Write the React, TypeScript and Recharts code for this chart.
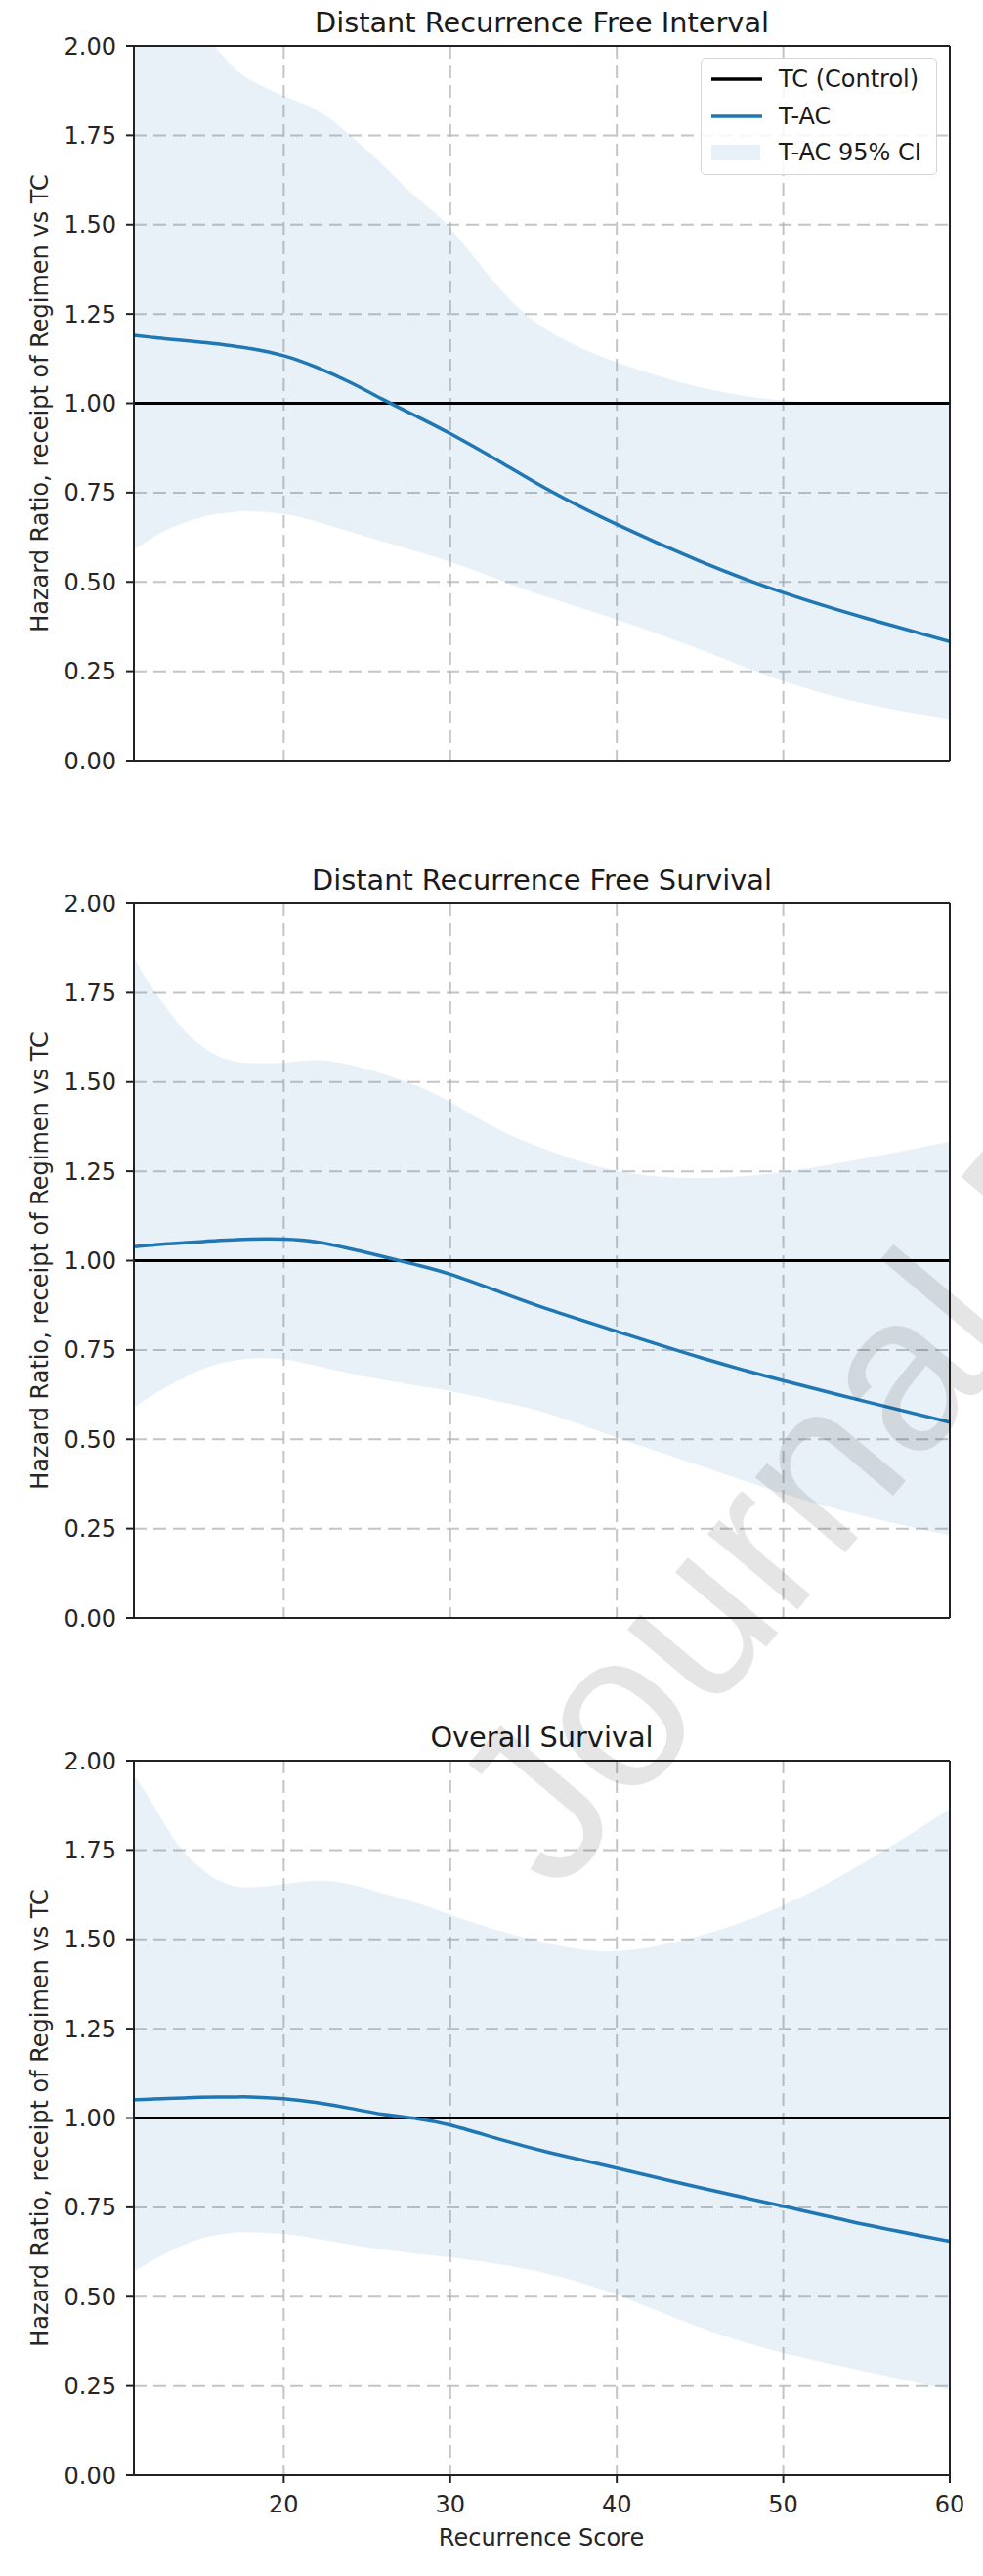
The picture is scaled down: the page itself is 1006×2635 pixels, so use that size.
import { ComposedChart, Area, Line, XAxis, YAxis, CartesianGrid, ReferenceLine, Legend, Label } from 'recharts';

// Recurrence score grid the curves were read at
const score = [11, 12, 13, 14, 15, 16, 17, 18, 20, 22, 24, 26, 28, 30, 33, 36, 40, 45, 50, 55, 60];

// Distant Recurrence Free Interval
const drfiHR = [1.19, 1.185, 1.18, 1.176, 1.171, 1.166, 1.16, 1.153, 1.133, 1.1, 1.058, 1.01, 0.963, 0.915, 0.836, 0.755, 0.661, 0.558, 0.47, 0.398, 0.333];
const drfiLower = [0.59, 0.62, 0.647, 0.665, 0.68, 0.69, 0.695, 0.698, 0.69, 0.668, 0.64, 0.612, 0.585, 0.556, 0.505, 0.455, 0.395, 0.311, 0.222, 0.158, 0.116];
const drfiUpper = [2.35, 2.28, 2.2, 2.12, 2.05, 1.99, 1.94, 1.905, 1.86, 1.82, 1.75, 1.665, 1.575, 1.49, 1.32, 1.2, 1.115, 1.045, 1.008, 1.0, 0.998];

// Distant Recurrence Free Survival
const drfsHR = [1.039, 1.043, 1.047, 1.05, 1.053, 1.056, 1.058, 1.06, 1.06, 1.052, 1.033, 1.011, 0.988, 0.962, 0.912, 0.862, 0.802, 0.729, 0.664, 0.605, 0.548];
const drfsLower = [0.589, 0.62, 0.648, 0.672, 0.694, 0.71, 0.72, 0.726, 0.724, 0.705, 0.684, 0.666, 0.65, 0.635, 0.605, 0.57, 0.505, 0.426, 0.348, 0.283, 0.231];
const drfsUpper = [1.848, 1.77, 1.705, 1.646, 1.603, 1.574, 1.558, 1.553, 1.554, 1.561, 1.548, 1.522, 1.489, 1.444, 1.365, 1.307, 1.251, 1.231, 1.248, 1.287, 1.333];

// Overall Survival
const osHR = [1.051, 1.053, 1.055, 1.056, 1.058, 1.059, 1.059, 1.059, 1.054, 1.043, 1.027, 1.01, 0.998, 0.98, 0.94, 0.903, 0.86, 0.805, 0.753, 0.701, 0.655];
const osLower = [0.571, 0.598, 0.623, 0.645, 0.662, 0.673, 0.679, 0.68, 0.675, 0.662, 0.646, 0.632, 0.62, 0.61, 0.59, 0.562, 0.505, 0.414, 0.342, 0.29, 0.238];
const osUpper = [1.96, 1.889, 1.81, 1.745, 1.7, 1.667, 1.65, 1.646, 1.654, 1.664, 1.654, 1.628, 1.602, 1.569, 1.523, 1.488, 1.467, 1.51, 1.595, 1.719, 1.865];

const controlHR = 1.0;
const xTicks = [20, 30, 40, 50, 60];
const yTicks = [0, 0.25, 0.5, 0.75, 1, 1.25, 1.5, 1.75, 2];

const BLUE = '#1f77b4';
const FONT = 'DejaVu Sans';
const tickStyle = { fontSize: 24, fill: '#262626', fontFamily: FONT };

const W = 1006;
const H = 877;

function LegendBox() {
  const rows = [
    { label: 'TC (Control)', kind: 'black' },
    { label: 'T-AC', kind: 'blue' },
    { label: 'T-AC 95% CI', kind: 'patch' },
  ];
  return (
    <div
      style={{
        width: 242,
        height: 120,
        boxSizing: 'border-box',
        border: '1.5px solid #d6d6d6',
        borderRadius: 5,
        background: 'rgba(255,255,255,0.85)',
        position: 'relative',
        fontFamily: FONT,
        fontSize: 24,
        color: '#1a1a1a',
      }}
    >
      {rows.map((r, i) => {
        const cy = 21 + i * 37.5;
        return (
          <div key={r.label}>
            <svg width={56} height={20} style={{ position: 'absolute', left: 8, top: cy - 10 }}>
              {r.kind === 'patch' ? (
                <rect x={2} y={2} width={50} height={16} fill={BLUE} fillOpacity={0.1} />
              ) : (
                <line x1={2} x2={54} y1={10} y2={10} stroke={r.kind === 'black' ? '#000' : BLUE} strokeWidth={3.5} />
              )}
            </svg>
            <div style={{ position: 'absolute', left: 79, top: cy - 14, height: 28, lineHeight: '28px', whiteSpace: 'nowrap' }}>
              {r.label}
            </div>
          </div>
        );
      })}
    </div>
  );
}

function Panel({ title, hr, lower, upper, top, showLegend, showX }) {
  const data = score.map((s, i) => ({ score: s, hr: hr[i], ci: [lower[i], upper[i]] }));
  return (
    <div style={{ position: 'absolute', left: 0, top, width: W, height: H }}>
      <ComposedChart width={W} height={H} data={data} margin={{ top: 47, right: 34, bottom: 69, left: 0 }}>
        <CartesianGrid stroke="#b0b0b0" strokeOpacity={0.75} strokeWidth={2} strokeDasharray="13 7" />
        <XAxis
          dataKey="score"
          type="number"
          domain={[11, 60]}
          ticks={xTicks}
          allowDataOverflow
          height={30}
          tick={showX ? tickStyle : () => <g />}
          tickLine={showX ? { stroke: '#222', strokeWidth: 2 } : false}
          tickSize={8}
          tickMargin={13}
          axisLine={{ stroke: '#222', strokeWidth: 2 }}
          label={
            showX
              ? {
                  content: () => (
                    <text x={554} y={850} textAnchor="middle" fontSize={24} fontFamily={FONT} fill="#262626">
                      Recurrence Score
                    </text>
                  ),
                }
              : undefined
          }
        />
        <YAxis
          type="number"
          domain={[0, 2]}
          ticks={yTicks}
          allowDataOverflow
          width={137}
          tick={tickStyle}
          tickFormatter={(v) => v.toFixed(2)}
          tickLine={{ stroke: '#222', strokeWidth: 2 }}
          tickSize={8}
          tickMargin={10}
          axisLine={{ stroke: '#222', strokeWidth: 2 }}
          label={{
            content: (props) => {
              const vb = props.viewBox || { y: 47, height: 731 };
              const cy = vb.y + vb.height / 2;
              return (
                <text x={49} y={cy} transform={`rotate(-90 49 ${cy})`} textAnchor="middle" fontSize={24} fontFamily={FONT} fill="#262626">
                  Hazard Ratio, receipt of Regimen vs TC
                </text>
              );
            },
          }}
        />
        <Area
          dataKey="ci"
          type="natural"
          stroke="none"
          fill={BLUE}
          fillOpacity={0.1}
          isAnimationActive={false}
          activeDot={false}
        />
        <ReferenceLine y={controlHR} stroke="#000" strokeWidth={3} />
        <Line dataKey="hr" type="natural" stroke={BLUE} strokeWidth={3.5} dot={false} activeDot={false} isAnimationActive={false} />
        <ReferenceLine y={2} stroke="#222" strokeWidth={2}>
          <Label value={title} position="top" offset={14} fontSize={28.8} fontFamily={FONT} fill="#1a1a1a" />
        </ReferenceLine>
        <ReferenceLine x={60} stroke="#222" strokeWidth={2} />
        {showLegend && (
          <Legend
            layout="vertical"
            align="center"
            verticalAlign="middle"
            wrapperStyle={{ left: 717, top: 59, width: 242, height: 120 }}
            content={() => <LegendBox />}
          />
        )}
      </ComposedChart>
    </div>
  );
}

export default function App() {
  return (
    <div style={{ position: 'absolute', left: 0, top: 0, width: W, height: 2635, overflow: 'hidden', background: '#fff' }}>
      <Panel title="Distant Recurrence Free Interval" hr={drfiHR} lower={drfiLower} upper={drfiUpper} top={0} showLegend showX={false} />
      <Panel title="Distant Recurrence Free Survival" hr={drfsHR} lower={drfsLower} upper={drfsUpper} top={877} showLegend={false} showX={false} />
      <Panel title="Overall Survival" hr={osHR} lower={osLower} upper={osUpper} top={1754} showLegend={false} showX />
      <svg width={W} height={2635} style={{ position: 'absolute', left: 0, top: 0, pointerEvents: 'none' }}>
        <text
          x={570}
          y={1940}
          transform="rotate(-50 570 1940)"
          fontSize={228}
          fontFamily="Liberation Sans"
          fill="#000"
          fillOpacity={0.1}
        >
          Journal Pre-proof
        </text>
      </svg>
    </div>
  );
}
